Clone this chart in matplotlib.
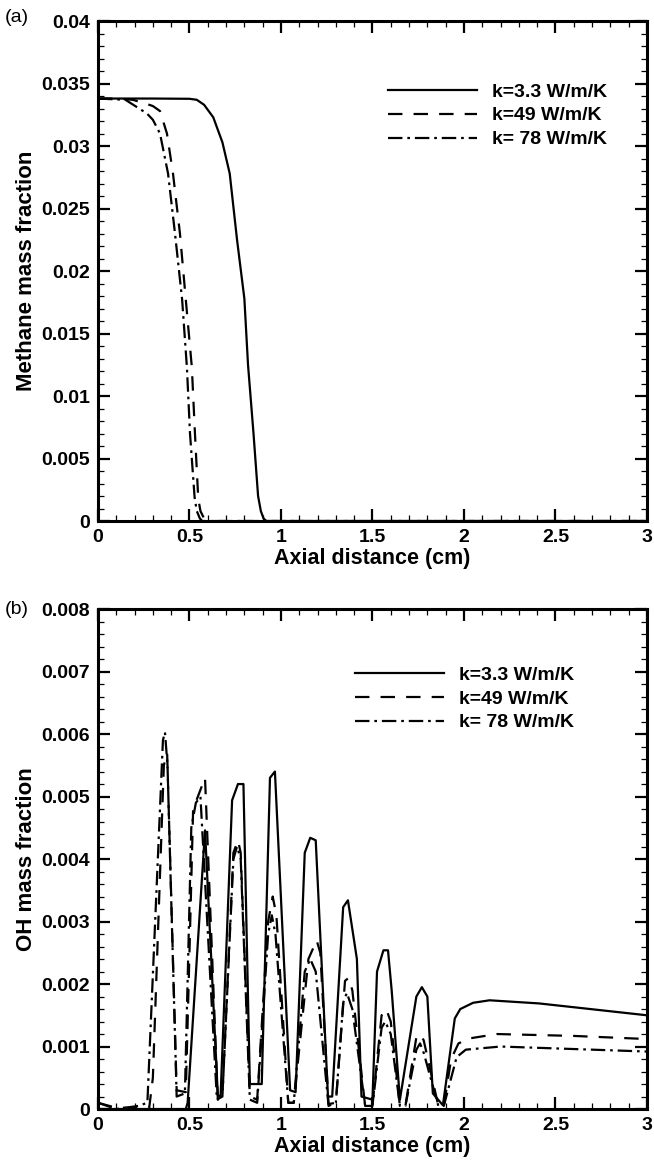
import matplotlib
matplotlib.use('Agg')
import matplotlib.pyplot as plt
from matplotlib.ticker import MultipleLocator, FuncFormatter

plt.rcParams['font.family'] = ['Liberation Sans', 'DejaVu Sans']

labels = ['k=3.3 W/m/K', 'k=49 W/m/K', 'k= 78 W/m/K']

# (a) methane mass fraction vs axial distance
ch4_x_k33 = [0, 0.3, 0.5, 0.54, 0.58, 0.63, 0.68, 0.72, 0.76, 0.80, 0.82, 0.85, 0.875, 0.89, 0.905, 0.92, 3.0]
ch4_y_k33 = [0.0338, 0.0338, 0.03378, 0.0337, 0.0333, 0.0323, 0.0303, 0.0278, 0.0225, 0.0178, 0.0125,
             0.0070, 0.0020, 0.0008, 0.0002, 0.0, 0.0]
ch4_x_k49 = [0, 0.1, 0.19, 0.26, 0.30, 0.339, 0.377, 0.41, 0.448, 0.48, 0.513, 0.53, 0.548, 0.56, 0.58, 0.595, 3.0]
ch4_y_k49 = [0.0338, 0.0338, 0.0337, 0.0334, 0.0332, 0.0328, 0.0310, 0.0278, 0.0230, 0.0177, 0.0123,
             0.0070, 0.0018, 0.0008, 0.0002, 0.0, 0.0]
ch4_x_k78 = [0, 0.15, 0.268, 0.30, 0.339, 0.383, 0.421, 0.46, 0.486, 0.503, 0.528, 0.54, 0.557, 0.57, 3.0]
ch4_y_k78 = [0.0338, 0.0337, 0.0326, 0.0321, 0.0310, 0.0278, 0.0230, 0.0177, 0.0123, 0.0070, 0.0019,
             0.0008, 0.0002, 0.0, 0.0]

# (b) OH mass fraction vs axial distance
oh_x_k33 = [0, 0.48, 0.49, 0.585, 0.655, 0.67, 0.733, 0.765, 0.795, 0.83, 0.895, 0.94, 0.967, 1.05, 1.08,
            1.13, 1.16, 1.19, 1.257, 1.28, 1.34, 1.366, 1.415, 1.44, 1.50, 1.525, 1.56, 1.585, 1.605, 1.65,
            1.74, 1.77, 1.80, 1.83, 1.885, 1.95, 1.98, 2.05, 2.14, 2.41, 2.69, 3.0]
oh_y_k33 = [0, 0, 0.0001, 0.00446, 0.00022, 0.0002, 0.00494, 0.0052, 0.0052, 0.0004, 0.0004, 0.0053,
            0.0054, 0.0003, 0.00027, 0.0041, 0.00434, 0.0043, 0.0002, 0.0002, 0.00323, 0.00334, 0.0024,
            0.0002, 0.00015, 0.0022, 0.00254, 0.00254, 0.0019, 0.00015, 0.0018, 0.00195, 0.0018, 0.00025,
            0.00006, 0.00145, 0.0016, 0.0017, 0.00174, 0.00169, 0.0016, 0.0015]
oh_x_k49 = [0, 0.05, 0.1, 0.28, 0.30, 0.36, 0.378, 0.43, 0.48, 0.50, 0.52, 0.585, 0.655, 0.68, 0.74,
            0.765, 0.78, 0.83, 0.87, 0.93, 0.955, 0.975, 1.04, 1.07, 1.15, 1.195, 1.215, 1.26, 1.30, 1.35,
            1.37, 1.39, 1.46, 1.50, 1.55, 1.575, 1.60, 1.65, 1.68, 1.74, 1.76, 1.78, 1.86, 1.89, 1.93,
            1.97, 2.03, 2.18, 2.6, 3.0]
oh_y_k49 = [0.0001, 0.00006, 0.00002, 0.00002, 0.0005, 0.0055, 0.0057, 0.0003, 0.00027, 0.0025, 0.0048,
            0.0053, 0.00015, 0.0002, 0.0041, 0.0043, 0.0041, 0.0002, 0.00015, 0.0030, 0.0034, 0.0031,
            0.0001, 0.0001, 0.0024, 0.0027, 0.0025, 0.00008, 0.0001, 0.00205, 0.0021, 0.0019, 0.00005,
            0.00005, 0.0015, 0.0016, 0.0014, 0.00005, 0.00005, 0.00115, 0.0012, 0.0011, 0.00005, 0.00005,
            0.0008, 0.00105, 0.00113, 0.0012, 0.00117, 0.00112]
oh_x_k78 = [0, 0.05, 0.1, 0.22, 0.27, 0.355, 0.366, 0.38, 0.43, 0.475, 0.51, 0.535, 0.56, 0.65, 0.68,
            0.74, 0.76, 0.78, 0.83, 0.87, 0.93, 0.95, 0.97, 1.04, 1.07, 1.13, 1.16, 1.19, 1.26, 1.30, 1.34,
            1.36, 1.39, 1.46, 1.50, 1.55, 1.57, 1.60, 1.65, 1.68, 1.74, 1.76, 1.78, 1.86, 1.89, 1.96,
            2.01, 2.2, 2.6, 3.0]
oh_y_k78 = [0.0001, 0.00005, 0.0, 0.00005, 0.0001, 0.0059, 0.00603, 0.0055, 0.0002, 0.00025, 0.0045,
            0.0049, 0.0050, 0.00015, 0.0002, 0.0040, 0.0042, 0.0040, 0.00015, 0.0001, 0.0028, 0.0031,
            0.0028, 0.0001, 0.0001, 0.0022, 0.0024, 0.0022, 0.00005, 0.0001, 0.0017, 0.00186, 0.0016,
            0.00005, 0.00005, 0.0013, 0.0014, 0.0012, 0.00005, 0.00005, 0.00095, 0.00105, 0.0009, 0.00005,
            0.00005, 0.00083, 0.00095, 0.0010, 0.00096, 0.00092]

styles = [dict(linestyle='-'),
          dict(linestyle=(0, (6.5, 5))),
          dict(linestyle=(0, (6.5, 2.2, 1.2, 2.2)))]

fig = plt.figure(figsize=(6.54, 11.63), dpi=100)
ax_a = fig.add_axes([0.1498, 0.552, 0.8394, 0.4299])
ax_b = fig.add_axes([0.1498, 0.0464, 0.8394, 0.4299])

fmt = FuncFormatter(lambda v, p: '%g' % round(v, 6))


def style_axes(ax, ymax, ymajor, yminor, ylabel):
    ax.set_xlim(0, 3)
    ax.set_ylim(0, ymax)
    ax.xaxis.set_major_locator(MultipleLocator(0.5))
    ax.xaxis.set_minor_locator(MultipleLocator(0.1))
    ax.yaxis.set_major_locator(MultipleLocator(ymajor))
    ax.yaxis.set_minor_locator(MultipleLocator(yminor))
    ax.xaxis.set_major_formatter(fmt)
    ax.yaxis.set_major_formatter(fmt)
    ax.tick_params(which='both', direction='in', top=True, right=True)
    ax.tick_params(which='major', length=8.6, width=1.6, pad=6, labelsize=14)
    ax.tick_params(which='minor', length=4, width=0.9)
    for t in ax.get_xticklabels() + ax.get_yticklabels():
        t.set_fontweight('bold')
    for s in ax.spines.values():
        s.set_linewidth(2.2)
    ax.set_xlabel('Axial distance (cm)', fontsize=15.5, fontweight='bold', labelpad=1)
    ax.set_ylabel(ylabel, fontsize=16, fontweight='bold', labelpad=3)


ax_a.plot(ch4_x_k33, ch4_y_k33, color='black', lw=1.6, label=labels[0], **styles[0])
ax_a.plot(ch4_x_k49, ch4_y_k49, color='black', lw=1.6, label=labels[1], **styles[1])
ax_a.plot(ch4_x_k78, ch4_y_k78, color='black', lw=1.6, label=labels[2], **styles[2])
style_axes(ax_a, 0.04, 0.005, 0.001, 'Methane mass fraction')

ax_b.plot(oh_x_k33, oh_y_k33, color='black', lw=1.6, label=labels[0], **styles[0])
ax_b.plot(oh_x_k49, oh_y_k49, color='black', lw=1.6, label=labels[1], **styles[1])
ax_b.plot(oh_x_k78, oh_y_k78, color='black', lw=1.6, label=labels[2], **styles[2])
style_axes(ax_b, 0.008, 0.001, 0.0002, 'OH mass fraction')

for ax, anchor in [(ax_a, (0.528, 0.876)), (ax_b, (0.468, 0.886))]:
    leg = ax.legend(loc='upper left', bbox_to_anchor=anchor, frameon=False, fontsize=14,
                    handlelength=4.6, handletextpad=0.75, labelspacing=0.32,
                    borderpad=0, borderaxespad=0)
    for t in leg.get_texts():
        t.set_fontweight('bold')

fig.text(0.008, 1 - 18 / 1163, '(a)', fontsize=14, va='center', ha='left')
fig.text(0.008, 1 - 609 / 1163, '(b)', fontsize=14, va='center', ha='left')

fig.savefig('out.png', dpi=100)
